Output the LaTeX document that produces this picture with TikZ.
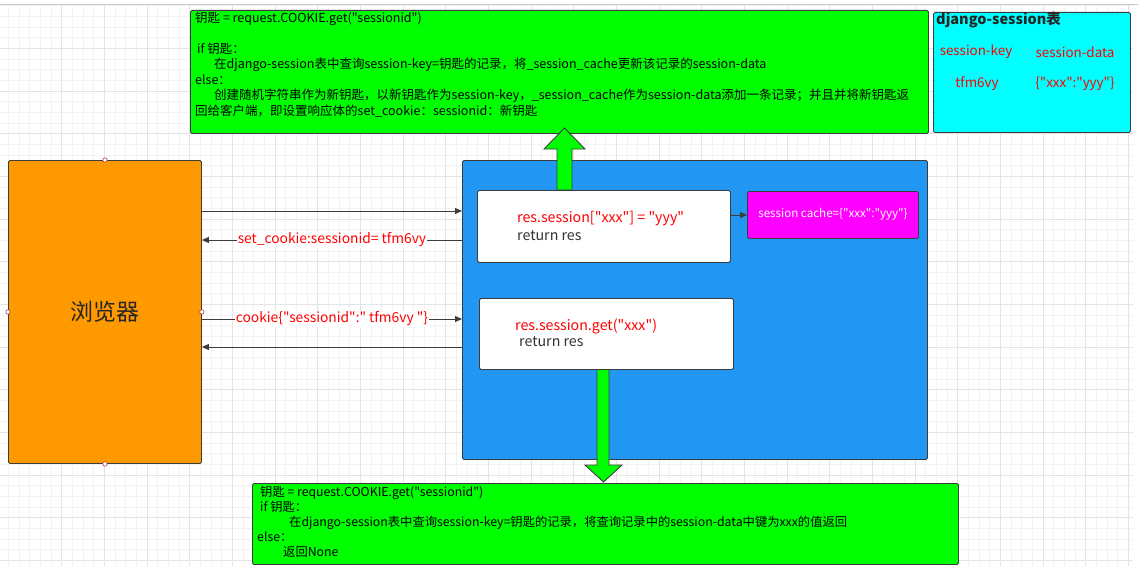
\documentclass[tikz,border=0pt]{standalone}
\usepackage{fontspec}
\setmainfont{Noto Sans CJK SC}[Ligatures=TeXOff]
\usetikzlibrary{arrows.meta}

\definecolor{edge}{RGB}{60,60,60}
\definecolor{boxgreen}{RGB}{0,255,0}
\definecolor{boxcyan}{RGB}{0,255,255}
\definecolor{boxorange}{RGB}{255,153,0}
\definecolor{boxblue}{RGB}{33,150,243}
\definecolor{boxpink}{RGB}{255,0,255}
\definecolor{txtred}{RGB}{255,0,0}
\definecolor{gridminor}{RGB}{242,242,242}
\definecolor{gridmajor}{RGB}{228,228,228}

\begin{document}
\begin{tikzpicture}[x=1pt,y=-1pt,
  box/.style={draw=edge,line width=0.9pt,rounded corners=1.5pt,anchor=north west,inner sep=0pt},
  code/.style={font=\fontsize{12.5}{15.4}\selectfont,align=left,anchor=north west,inner sep=0pt},
  snippet/.style={font=\fontsize{14.2}{16}\selectfont,anchor=west,inner sep=0pt},
  flow/.style={draw=edge,line width=0.8pt,-{Triangle[length=7pt,width=6pt]}},
  tag/.style={font=\fontsize{13.8}{16}\selectfont,text=txtred,fill=white,inner sep=1pt},
  cell/.style={font=\fontsize{13.4}{15}\selectfont,text=txtred,inner sep=0pt},
  fat/.style={fill=boxgreen,draw=edge,line width=0.9pt,line join=miter},
  handle/.style={circle,draw=red!60!black,fill=white,line width=0.4pt,inner sep=0pt,minimum size=4.5pt}]
\useasboundingbox (0,0) rectangle (1138,578);

% background grid
\foreach \gx in {0,...,105} {
  \draw[gridminor,line width=0.5pt] (8.33+10.667*\gx,5) -- (8.33+10.667*\gx,566);
}
\foreach \gy in {0,...,52} {
  \draw[gridminor,line width=0.5pt] (0,5.67+10.667*\gy) -- (1133,5.67+10.667*\gy);
}
\foreach \gx in {0,...,25} {
  \draw[gridmajor,line width=0.6pt] (61.7+42.67*\gx,5) -- (61.7+42.67*\gx,566);
}
\foreach \gy in {0,...,12} {
  \draw[gridmajor,line width=0.6pt] (0,48.3+42.67*\gy) -- (1133,48.3+42.67*\gy);
}
\draw[gray!45,line width=0.8pt] (0,4.5) -- (1138,4.5);

% boxes
\node[box,fill=boxgreen,minimum width=738pt,minimum height=123pt] (setbox) at (190,10) {};
\node[box,fill=boxcyan,minimum width=197pt,minimum height=120pt] (table) at (933,12) {};
\node[box,fill=boxorange,minimum width=193pt,minimum height=303pt] (browser) at (8,160) {};
\node[box,fill=boxblue,minimum width=465pt,minimum height=299pt] (server) at (462,160) {};
\node[box,fill=boxgreen,minimum width=706pt,minimum height=81pt] (getbox) at (252,483) {};

% big arrows
\draw[fat] (557,190) -- (557,149) -- (544,149) -- (564.5,128) -- (585,149) -- (572,149) -- (572,190) -- cycle;
\draw[fat] (597,369) -- (597,465) -- (585,465) -- (603.5,482) -- (622,465) -- (609,465) -- (609,369) -- cycle;

\node[box,fill=white,minimum width=253pt,minimum height=72pt] (setcode) at (477,190) {};
\node[box,fill=white,minimum width=254pt,minimum height=71pt] (getcode) at (479,298) {};
\node[box,fill=boxpink,minimum width=171pt,minimum height=47pt] (cache) at (747,191) {};

% texts
\node[code] (settext) at (195,12) {钥匙 = request.COOKIE.get("sessionid")\\[15.4pt]
\hspace*{2pt}if 钥匙：\\
\hspace*{19pt}在django-session表中查询session-key=钥匙的记录，将\_session\_cache更新该记录的session-data\\
else：\\
\hspace*{19pt}创建随机字符串作为新钥匙，以新钥匙作为session-key，\_session\_cache作为session-data添加一条记录；并且并将新钥匙返\\
回给客户端，即设置响应体的set\_cookie：sessionid：新钥匙};

\node[code,font=\fontsize{12.3}{15.2}\selectfont] (gettext) at (257,485.5) {\hspace*{3pt}钥匙 = request.COOKIE.get("sessionid")\\
\hspace*{3pt}if 钥匙：\\
\hspace*{32pt}在django-session表中查询session-key=钥匙的记录，将查询记录中的session-data中键为xxx的值返回\\
else：\\
\hspace*{26pt}返回None};

\node[font=\fontsize{14.5}{16}\bfseries,text=black!85,anchor=west,inner sep=0pt] (tabletitle) at (936,20) {django-session表};
\node[cell] (keyhead) at (976,52) {session-key};
\node[cell] (datahead) at (1075,52) {session-data};
\node[cell] (keyval) at (977,84) {tfm6vy};
\node[cell] (dataval) at (1075,84) {\{"xxx":"yyy"\}};

\node[font=\fontsize{23}{26}\selectfont,text=black!85] (browsertext) at (browser.center) {浏览器};

\node[snippet,text=txtred] (setline) at (517,219) {res.session["xxx"] = "yyy"};
\node[snippet,text=black!80] (setret) at (517,236) {return res};
\node[snippet,text=txtred] (getline) at (515,326) {res.session.get("xxx")};
\node[snippet,text=black!80] (getret) at (519,342) {return res};
\node[font=\fontsize{11.6}{13}\selectfont,text=white] (cachetext) at (833,214.5) {session cache=\{"xxx":"yyy"\}};

% connectors
\draw[flow] (browser.east |- 0,211) -- (server.west |- 0,211);
\draw[flow] (server.west |- 0,240) -- node[tag] (cookieset) {set\_cookie:sessionid= tfm6vy} (browser.east |- 0,240);
\draw[flow] (browser.east |- 0,319) -- node[tag] (cookieget) {cookie\{"sessionid":" tfm6vy "\}} (server.west |- 0,319);
\draw[flow] (server.west |- 0,347) -- (browser.east |- 0,347);
\draw[flow] (setcode.east |- cache.west) -- (cache.west);

% selection handles
\foreach \side in {north,south,east,west} {
  \node[handle] (handle-\side) at (browser.\side) {};
}
\end{tikzpicture}
\end{document}
